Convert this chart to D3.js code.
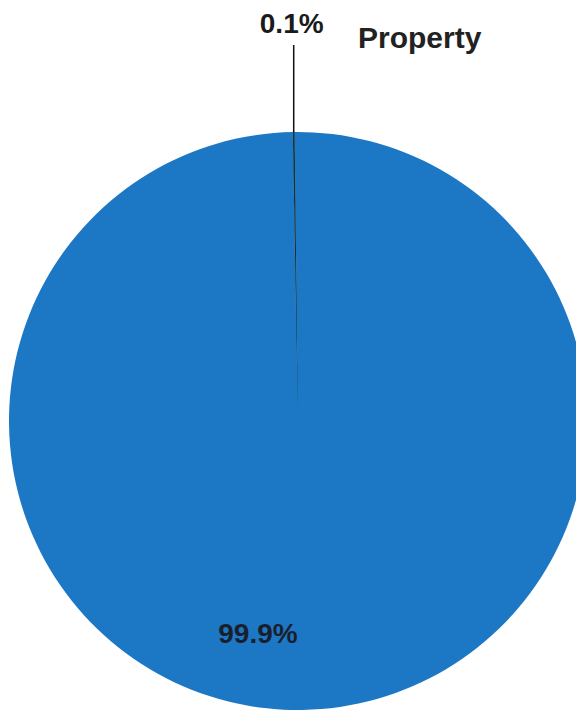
<!DOCTYPE html>
<html>
<head>
<meta charset="utf-8">
<script src="https://cdn.jsdelivr.net/npm/d3@7"></script>
<style>
  body { margin: 0; background: #fff; }
  svg { display: block; }
</style>
</head>
<body>
<div id="chart"></div>
<script>
// data
var categories = ["Property", "Other"];
var values = [0.1, 99.9];
var pctLabels = ["0.1%", "99.9%"];
var colors = ["#1c3338", "#1c78c4"];

var width = 576, height = 711;
var cx = 298, cy = 421, radius = 289;

var svg = d3.select("#chart")
  .append("svg")
    .attr("width", width)
    .attr("height", height);

var g = svg.append("g")
    .attr("transform", "translate(" + cx + "," + cy + ")");

var pie = d3.pie()
  .sort(null)
  .startAngle(-0.018)
  .endAngle(2 * Math.PI - 0.018)
  .value(function(d) { return d; });

var arc = d3.arc()
  .innerRadius(0)
  .outerRadius(radius);

var arcs = pie(values);

g.selectAll("path.slice")
  .data(arcs)
  .enter()
  .append("path")
    .attr("class", "slice")
    .attr("d", arc)
    .attr("fill", function(d, i) { return colors[i]; })
    .attr("stroke", function(d, i) { return i == 0 ? "#16302f" : "none"; })
    .attr("stroke-width", 0.8);

// leader line for the small slice
var small = arcs[0];
var mid = (small.startAngle + small.endAngle) / 2;
var edge = [Math.sin(mid) * radius, -Math.cos(mid) * radius];
g.append("line")
  .attr("x1", edge[0])
  .attr("y1", edge[1])
  .attr("x2", edge[0])
  .attr("y2", -376)
  .attr("stroke", "#111")
  .attr("stroke-width", 1.5);

// labels
g.append("text")
  .attr("x", edge[0] - 2)
  .attr("y", -388)
  .attr("text-anchor", "middle")
  .style("font-family", "Liberation Sans, Arial, sans-serif")
  .style("font-weight", "bold")
  .style("font-size", "28px")
  .style("fill", "#1a1a1a")
  .text(pctLabels[0]);

g.append("text")
  .attr("x", 60)
  .attr("y", -373)
  .attr("text-anchor", "start")
  .style("font-family", "Liberation Sans, Arial, sans-serif")
  .style("font-weight", "bold")
  .style("font-size", "30px")
  .style("fill", "#222")
  .text(categories[0]);

g.append("text")
  .attr("x", -40)
  .attr("y", 222)
  .attr("text-anchor", "middle")
  .style("font-family", "Liberation Sans, Arial, sans-serif")
  .style("font-weight", "bold")
  .style("font-size", "28px")
  .style("fill", "#1a1f2e")
  .text(pctLabels[1]);
</script>
</body>
</html>
